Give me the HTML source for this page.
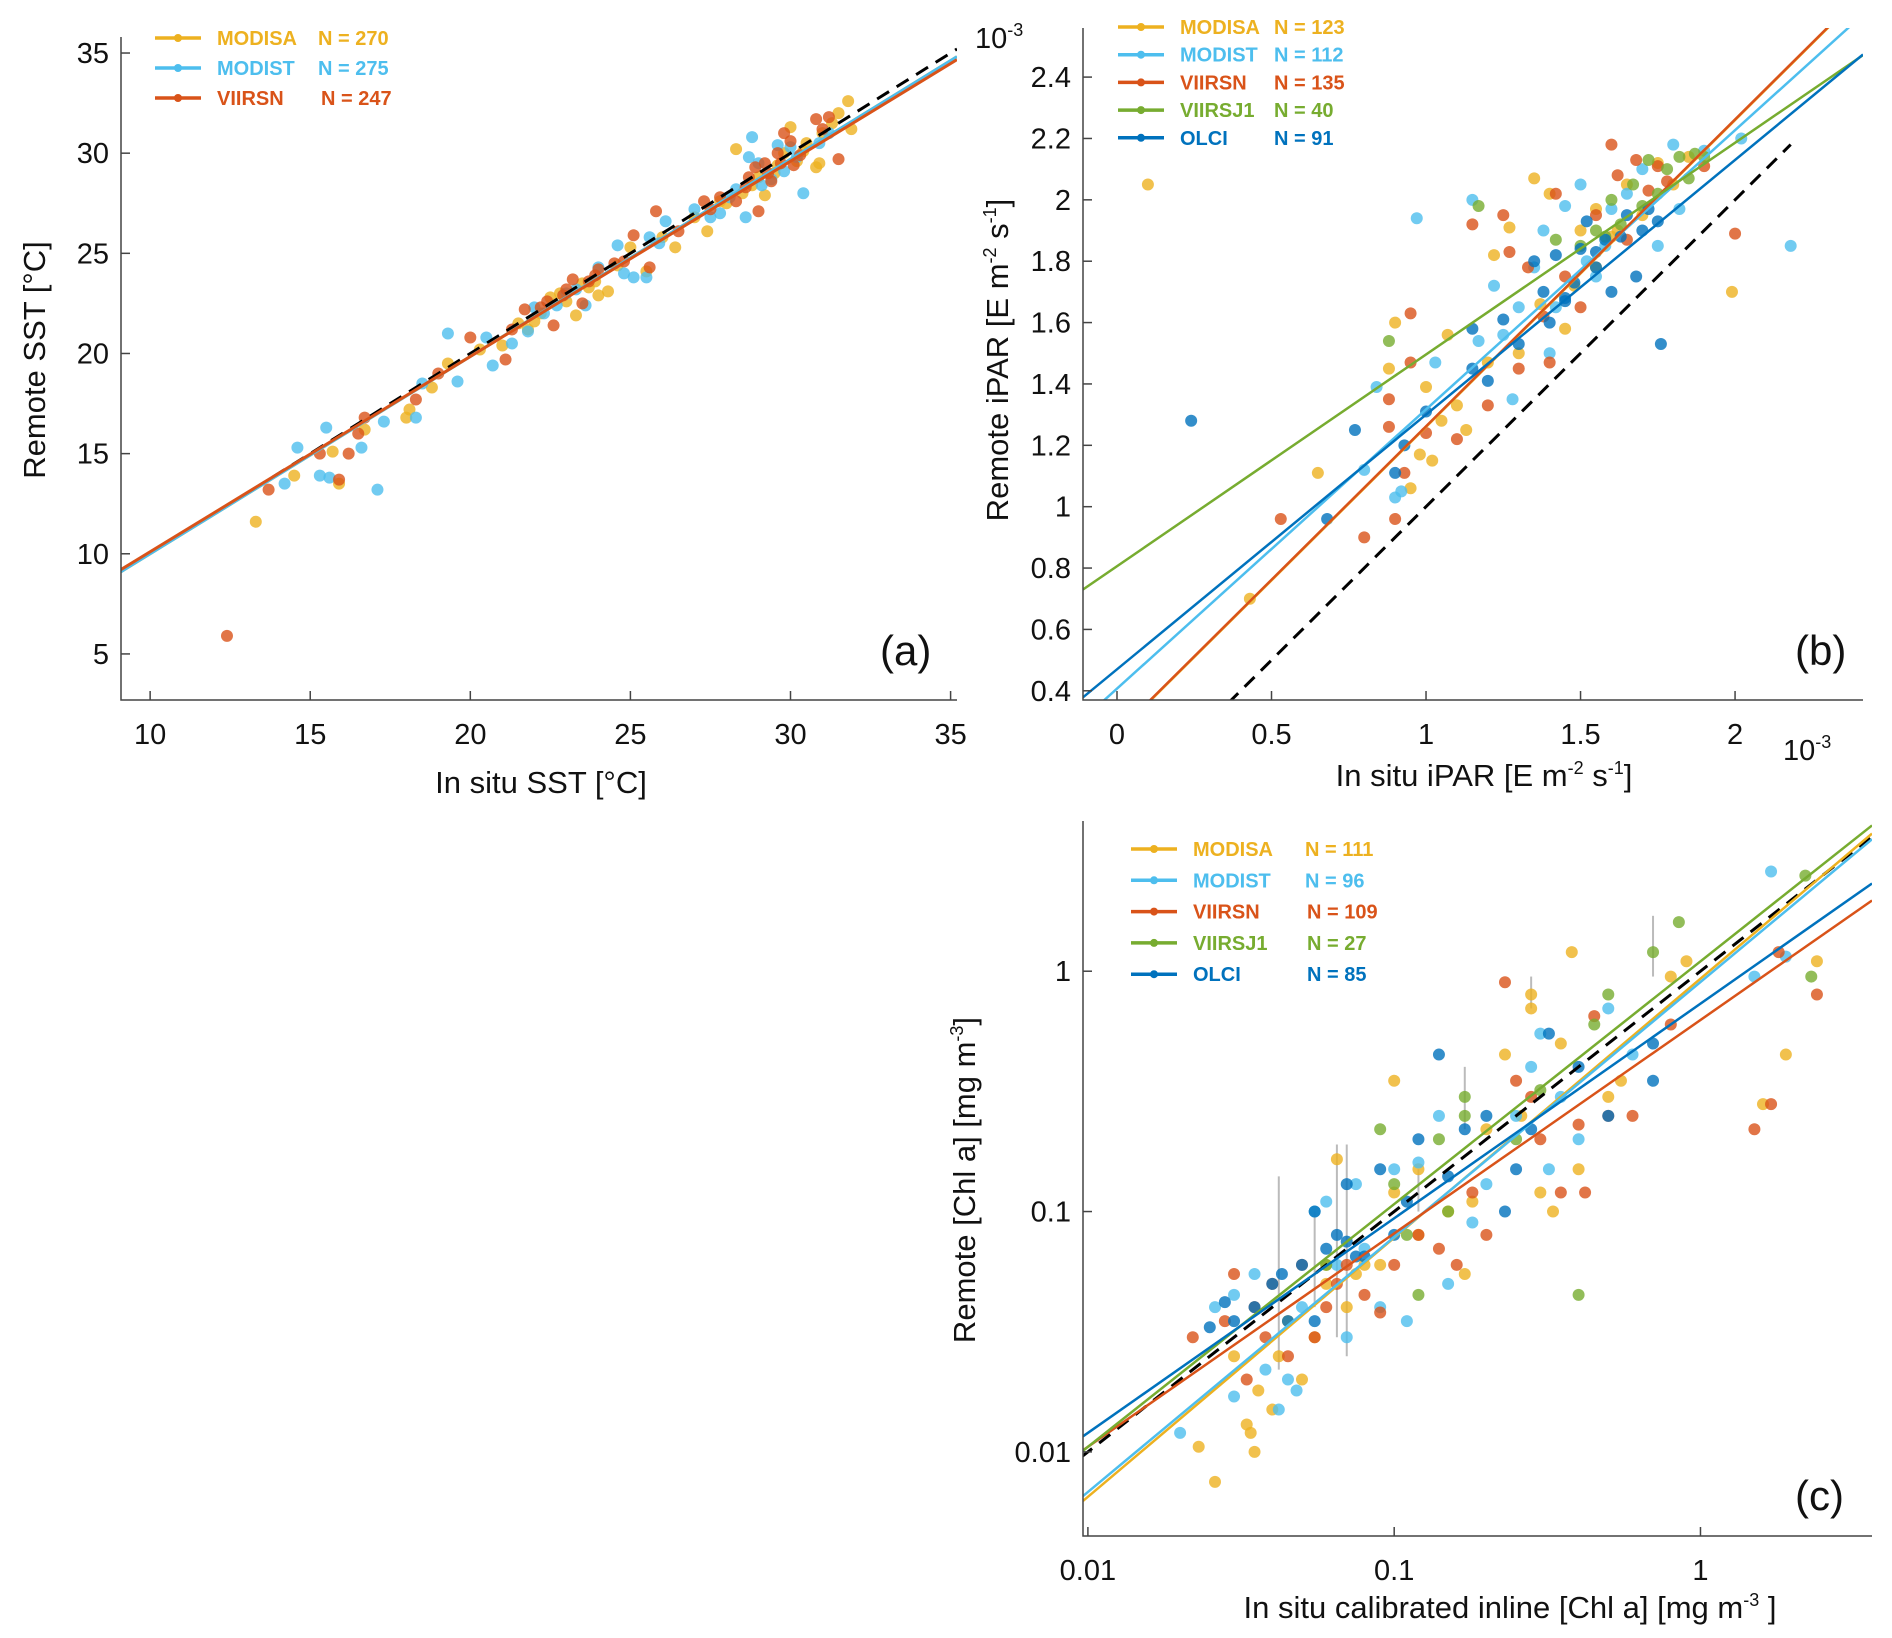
<!DOCTYPE html>
<html><head><meta charset="utf-8">
<style>
html,body{margin:0;padding:0;background:#fff;}
svg{display:block;font-family:"Liberation Sans",sans-serif;}
.tick{font-size:29px;fill:#111;}
.title{font-size:31px;fill:#111;}
.leg{font-family:"Liberation Sans Narrow","Liberation Sans",sans-serif;font-size:20px;font-weight:bold;}
</style></head>
<body>
<svg id="fig" width="1892" height="1638" viewBox="0 0 1892 1638" xmlns="http://www.w3.org/2000/svg"></svg>
<script>
// ---------- Panel (a) data ----------
const aModisa=[[13.3,11.6],[14.5,13.9],[15.9,13.5],[15.7,15.1],[16.7,16.2],[18,16.8],[18.1,17.2],[18.8,18.3],[19.3,19.5],[20.3,20.2],[21,20.4],[21.5,21.5],[22,21.6],[22.5,22.8],[23,22.6],[23.3,21.9],[23.7,23.3],[24.3,23.1],[24.6,24.4],[25,25.3],[25.5,24.1],[26,25.8],[26.4,25.3],[27,26.8],[27.4,26.1],[28,27.5],[28.3,30.2],[28.8,28.4],[29.2,27.9],[29.5,29.0],[29.8,30.0],[30,31.3],[30.2,29.6],[30.5,30.5],[30.8,29.3],[31,31.0],[31.5,32.0],[31.8,32.6],[31.9,31.2],[30.9,29.5],[29,28.8],[22.8,23.0],[24,22.9],[23.5,23.5],[22.2,22.0],[23.9,23.6],[28.5,28.0],[29.6,29.4],[30.4,30.1],[27.8,27.6],[31.3,31.5],[21.8,21.2]];
const aModist=[[14.2,13.5],[14.6,15.3],[15.3,13.9],[15.5,16.3],[15.6,13.8],[16.6,15.3],[17.1,13.2],[17.3,16.6],[18.3,16.8],[18.5,18.5],[19.3,21.0],[19.6,18.6],[20.5,20.8],[20.7,19.4],[21.3,20.5],[21.8,21.1],[22.3,22.0],[23,23.0],[23.6,22.4],[24.0,24.3],[24.6,25.4],[25.1,23.8],[25.5,23.8],[25.6,25.8],[26.1,26.6],[27.5,26.8],[27.8,27.0],[28.6,26.8],[28.7,29.8],[28.8,30.8],[29.1,28.4],[29.4,28.7],[29.6,30.4],[30,30.3],[30.4,28.0],[30.9,30.5],[31.2,31.0],[28.3,28.2],[29.8,29.1],[27,27.2],[22.7,22.4],[24.8,24.0],[22.0,22.3],[23.3,23.2],[29.0,29.5],[30.2,29.8],[28.1,27.8],[25.9,25.5]];
const aViirsn=[[12.4,5.9],[13.7,13.2],[15.3,15.0],[16.2,15.0],[15.9,13.7],[16.5,16.0],[16.7,16.8],[18.3,17.7],[19,19.0],[20.0,20.8],[21.1,19.7],[21.3,21.2],[21.7,22.2],[22.2,22.3],[22.6,21.4],[23.2,23.7],[23.5,22.5],[24,24.2],[24.5,24.5],[25.1,25.9],[25.6,24.3],[25.8,27.1],[26.5,26.1],[27.3,27.6],[27.8,27.8],[28.3,27.6],[28.7,28.8],[29.0,27.1],[29.2,29.5],[29.4,28.6],[29.7,29.5],[30.0,30.6],[30.3,29.9],[30.8,31.7],[31.0,31.2],[31.5,29.7],[31.2,31.8],[29.8,31.0],[28.9,29.3],[29.6,30.0],[23.7,23.6],[22.9,22.9],[22.4,22.6],[23.0,23.2],[23.9,23.9],[28.6,28.3],[29.3,29.0],[30.1,29.4],[27.5,27.2],[24.8,24.6]];
const aSlopes=[0.985,0.985,0.975];
const aIntercepts=[0.15,0.15,0.35];
const aXTicks=[10,15,20,25,30,35];
const aYTicks=[5,10,15,20,25,30,35];
const aN=[270,275,247];
// ---------- Panel (b) data (x1e-3) ----------
const bModisa=[[0.10,2.05],[0.43,0.70],[0.65,1.11],[0.9,1.60],[0.88,1.45],[0.95,1.06],[0.98,1.17],[1.0,1.39],[1.02,1.15],[1.05,1.28],[1.07,1.56],[1.1,1.33],[1.13,1.25],[1.2,1.47],[1.22,1.82],[1.27,1.91],[1.3,1.50],[1.35,2.07],[1.37,1.66],[1.4,2.02],[1.45,1.58],[1.5,1.90],[1.55,1.97],[1.6,1.88],[1.65,2.05],[1.7,1.95],[1.75,2.12],[1.8,2.05],[1.85,2.14],[1.99,1.70],[1.55,1.78],[1.62,1.90],[1.48,1.72]];
const bModist=[[0.84,1.39],[0.8,1.12],[0.9,1.03],[0.92,1.05],[0.97,1.94],[1.03,1.47],[1.15,2.00],[1.17,1.54],[1.22,1.72],[1.25,1.56],[1.28,1.35],[1.3,1.65],[1.35,1.78],[1.38,1.90],[1.4,1.50],[1.45,1.98],[1.5,2.05],[1.52,1.80],[1.55,1.75],[1.6,1.97],[1.65,2.02],[1.7,2.10],[1.75,1.85],[1.8,2.18],[1.82,1.97],[1.9,2.16],[2.02,2.20],[2.18,1.85],[1.58,1.85],[1.42,1.65]];
const bViirsn=[[0.53,0.96],[0.8,0.90],[0.9,0.96],[0.88,1.26],[0.88,1.35],[0.93,1.11],[0.95,1.47],[0.95,1.63],[1.0,1.24],[1.1,1.22],[1.15,1.92],[1.2,1.33],[1.25,1.95],[1.27,1.83],[1.3,1.45],[1.33,1.78],[1.38,1.62],[1.4,1.47],[1.42,2.02],[1.45,1.75],[1.5,1.65],[1.55,1.95],[1.6,2.18],[1.62,2.08],[1.68,2.13],[1.72,2.03],[1.75,2.11],[1.78,2.06],[1.9,2.11],[2.0,1.89],[1.65,1.87]];
const bViirsj1=[[0.88,1.54],[1.17,1.98],[1.42,1.87],[1.5,1.85],[1.55,1.90],[1.6,2.00],[1.63,1.92],[1.67,2.05],[1.7,1.98],[1.72,2.13],[1.78,2.10],[1.82,2.14],[1.85,2.07],[1.87,2.15],[1.9,2.14],[1.75,2.02],[1.58,1.88]];
const bOlci=[[0.24,1.28],[0.68,0.96],[0.77,1.25],[0.9,1.11],[0.93,1.20],[1.0,1.31],[1.15,1.58],[1.15,1.45],[1.2,1.41],[1.25,1.61],[1.3,1.53],[1.35,1.80],[1.38,1.70],[1.4,1.60],[1.42,1.82],[1.45,1.67],[1.48,1.73],[1.5,1.84],[1.52,1.93],[1.55,1.78],[1.58,1.87],[1.6,1.70],[1.63,1.88],[1.65,1.95],[1.68,1.75],[1.7,1.90],[1.72,1.97],[1.75,1.93],[1.76,1.53],[1.45,1.68],[1.55,1.83]];
const bSlopes=[1.0,0.91,1.0,0.69,0.83];
const bIntercepts=[0.26,0.407,0.262,0.806,0.47];
const bXTicks=[0,0.5,1,1.5,2];
const bYTicks=[0.4,0.6,0.8,1,1.2,1.4,1.6,1.8,2,2.2,2.4];
const bN=[123,112,135,40,91];
// ---------- Panel (c) data ----------
const cModisa=[[0.023,0.0105],[0.026,0.0075],[0.03,0.025],[0.033,0.013],[0.034,0.012],[0.035,0.01],[0.036,0.018],[0.04,0.015],[0.042,0.025],[0.045,0.035],[0.05,0.02],[0.055,0.03],[0.06,0.05],[0.065,0.165],[0.07,0.04],[0.075,0.055],[0.08,0.06],[0.09,0.06],[0.1,0.12],[0.1,0.35],[0.12,0.15],[0.15,0.1],[0.17,0.055],[0.18,0.11],[0.2,0.22],[0.23,0.45],[0.26,0.25],[0.28,0.8],[0.3,0.12],[0.33,0.1],[0.35,0.5],[0.38,1.2],[0.4,0.15],[0.5,0.3],[0.55,0.35],[0.8,0.95],[0.9,1.1],[1.6,0.28],[1.9,0.45],[2.4,1.1],[0.28,0.7],[0.12,0.08],[0.06,0.06]];
const cModist=[[0.02,0.012],[0.026,0.04],[0.03,0.045],[0.03,0.017],[0.035,0.055],[0.038,0.022],[0.042,0.015],[0.045,0.02],[0.048,0.018],[0.05,0.04],[0.055,0.1],[0.06,0.11],[0.07,0.03],[0.075,0.13],[0.09,0.04],[0.1,0.15],[0.11,0.035],[0.12,0.16],[0.14,0.25],[0.15,0.05],[0.18,0.09],[0.2,0.13],[0.25,0.25],[0.28,0.4],[0.3,0.55],[0.32,0.15],[0.35,0.3],[0.4,0.2],[0.5,0.7],[0.6,0.45],[1.5,0.95],[1.7,2.6],[1.9,1.15],[0.08,0.07],[0.065,0.06]];
const cViirsn=[[0.022,0.03],[0.028,0.035],[0.03,0.055],[0.033,0.02],[0.035,0.04],[0.038,0.03],[0.04,0.05],[0.045,0.025],[0.05,0.06],[0.055,0.03],[0.06,0.04],[0.065,0.05],[0.07,0.06],[0.08,0.045],[0.09,0.038],[0.1,0.06],[0.12,0.08],[0.14,0.07],[0.16,0.06],[0.18,0.12],[0.2,0.08],[0.23,0.9],[0.25,0.35],[0.28,0.3],[0.3,0.2],[0.35,0.12],[0.4,0.23],[0.45,0.65],[0.5,0.25],[0.6,0.25],[0.8,0.6],[1.5,0.22],[1.7,0.28],[2.4,0.8],[1.8,1.2],[0.42,0.12]];
const cViirsj1=[[0.09,0.22],[0.1,0.13],[0.11,0.08],[0.12,0.045],[0.14,0.2],[0.17,0.3],[0.17,0.25],[0.25,0.2],[0.3,0.32],[0.4,0.045],[0.45,0.6],[0.5,0.8],[0.7,1.2],[0.85,1.6],[2.3,0.95],[2.2,2.5],[0.15,0.1],[0.06,0.06]];
const cOlci=[[0.025,0.033],[0.028,0.042],[0.03,0.035],[0.035,0.04],[0.04,0.05],[0.043,0.055],[0.045,0.035],[0.05,0.06],[0.055,0.035],[0.055,0.1],[0.06,0.07],[0.065,0.08],[0.07,0.075],[0.07,0.13],[0.08,0.065],[0.09,0.15],[0.1,0.08],[0.11,0.11],[0.12,0.2],[0.14,0.45],[0.15,0.14],[0.17,0.22],[0.2,0.25],[0.23,0.1],[0.25,0.15],[0.28,0.22],[0.32,0.55],[0.4,0.4],[0.5,0.25],[0.7,0.35],[0.7,0.5],[0.075,0.065]];
const cErrBars=[[0.042,0.022,0.14],[0.065,0.03,0.19],[0.07,0.025,0.19],[0.055,0.04,0.1],[0.17,0.22,0.4],[0.28,0.7,0.95],[0.7,0.95,1.7],[0.12,0.1,0.15]];
const cSlopes=[1.078,1.061,0.888,1.01,0.893];
const cIntercepts=[-0.031,-0.045,-0.203,0.041,-0.135];
const cXTicks=[0.01,0.1,1];
const cYTicks=[0.01,0.1,1];
const cN=[111,96,109,27,85];

const names=['MODISA','MODIST','VIIRSN','VIIRSJ1','OLCI'];
const colors=['#EDB120','#4DBEEE','#D95319','#77AC30','#0072BD'];
const NS='http://www.w3.org/2000/svg';
const svg=document.getElementById('fig');
function mk(tag,attrs,parent,text){const e=document.createElementNS(NS,tag);for(const k in attrs)e.setAttribute(k,attrs[k]);if(text!==undefined)e.textContent=text;(parent||svg).appendChild(e);return e;}
const defs=mk('defs',{});

function panel(cfg){
  const g=mk('g',{});
  
  
  const cp=mk('clipPath',{id:cfg.id+'-clip'},defs);
  mk('rect',{x:cfg.L,y:cfg.T,width:cfg.R-cfg.L,height:cfg.B-cfg.T},cp);
  const tx=cfg.log?v=>Math.log10(v):v=>v;
  const sx=v=>cfg.L+(tx(v)-cfg.xr[0])/(cfg.xr[1]-cfg.xr[0])*(cfg.R-cfg.L);
  const sy=v=>cfg.B-(tx(v)-cfg.yr[0])/(cfg.yr[1]-cfg.yr[0])*(cfg.B-cfg.T);
  const plot=mk('g',{'clip-path':'url(#'+cfg.id+'-clip)'},g);
  
  
  (cfg.err||[]).forEach(e=>{const l=mk('line',{x1:sx(e[0]),x2:sx(e[0]),y1:sy(e[1]),y2:sy(e[2]),stroke:'#bbb','stroke-width':2},plot);
    });
  cfg.series.forEach((pts,i)=>{pts.forEach(p=>{const c=mk('circle',{cx:sx(p[0]),cy:sy(p[1]),r:cfg.r||6,fill:colors[cfg.cidx[i]],'fill-opacity':0.8},plot);
    });});
  const d=mk('line',{x1:sx(cfg.one[0]),y1:sy(cfg.one[0]),x2:sx(cfg.one[1]),y2:sy(cfg.one[1]),stroke:'#000','stroke-width':3,'stroke-dasharray':'14,9'},plot);
  
  cfg.slopes.forEach((s,i)=>{
    let x0,x1,y0,y1;
    if(cfg.log){x0=cfg.xr[0];x1=cfg.xr[1];y0=cfg.ints[i]+s*x0;y1=cfg.ints[i]+s*x1;
      x0=Math.pow(10,x0);x1=Math.pow(10,x1);y0=Math.pow(10,y0);y1=Math.pow(10,y1);}
    else{x0=cfg.xr[0];x1=cfg.xr[1];y0=cfg.ints[i]+s*x0;y1=cfg.ints[i]+s*x1;}
    const l=mk('line',{x1:sx(x0),y1:sy(y0),x2:sx(x1),y2:sy(y1),stroke:colors[cfg.cidx[i]],'stroke-width':cfg.lw||2.5},plot);
    
  });
  const ax=mk('path',{d:`M${cfg.L},${cfg.T}V${cfg.B}H${cfg.R}`,fill:'none',stroke:'#444','stroke-width':1.5},g);
  
  cfg.xt.forEach(t=>{const x=sx(t);mk('line',{x1:x,x2:x,y1:cfg.B,y2:cfg.B-9,stroke:'#444','stroke-width':1.5},g);
    const tl=mk('text',{x:x,y:cfg.B+44,'text-anchor':'middle',class:'tick'},g,cfg.xfmt(t));
    });
  cfg.yt.forEach(t=>{const y=sy(t);mk('line',{x1:cfg.L,x2:cfg.L+9,y1:y,y2:y,stroke:'#444','stroke-width':1.5},g);
    const tl=mk('text',{x:cfg.L-12,y:y+10,'text-anchor':'end',class:'tick'},g,cfg.yfmt(t));
    });
  cfg.cidx.forEach((ci,i)=>{const y=cfg.leg[1]+i*cfg.leg[3];
    const lg=mk('g',{},g);
    mk('line',{x1:cfg.leg[0],x2:cfg.leg[0]+46,y1:y,y2:y,stroke:colors[ci],'stroke-width':3.5},lg);
    mk('circle',{cx:cfg.leg[0]+23,cy:y,r:4,fill:colors[ci]},lg);
    mk('text',{x:cfg.leg[0]+62,y:y+7,fill:colors[ci],class:'leg'},lg,names[ci]);
    mk('text',{x:cfg.leg[2]+(ci>=2?cfg.nOff||0:0),y:y+7,fill:colors[ci],class:'leg'},lg,'N = '+cfg.N[i]);
  });
  const pl=mk('text',{x:cfg.plab[0],y:cfg.plab[1],'font-size':42,fill:'#111'},g,cfg.plab[2]);
  
  return {g,sx,sy};
}
const fmt=v=>String(v);
panel({id:'panel-a',L:121,R:957,T:37,B:700,xr:[9.09,35.2],yr:[2.7,35.8],series:[aModisa,aModist,aViirsn],cidx:[0,1,2],
  slopes:aSlopes,ints:aIntercepts,one:[12,35.2],xt:aXTicks,yt:aYTicks,xfmt:fmt,yfmt:fmt,leg:[155,38,318,30],N:aN,nOff:3,
  plab:[880,665,'(a)'],lw:3});
panel({id:'panel-b',L:1083,R:1863,T:28,B:700,xr:[-0.11,2.414],yr:[0.37,2.56],series:[bModisa,bModist,bViirsn,bViirsj1,bOlci],cidx:[0,1,2,3,4],
  slopes:bSlopes,ints:bIntercepts,one:[0.36,2.18],xt:bXTicks,yt:bYTicks,xfmt:fmt,yfmt:fmt,leg:[1118,27,1274,27.7],N:bN,nOff:0,
  plab:[1795,665,'(b)']});
panel({id:'panel-c',L:1083,R:1872,T:821,B:1536,log:true,xr:[-2.016,0.56],yr:[-2.35,0.625],series:[cModisa,cModist,cViirsn,cViirsj1,cOlci],cidx:[0,1,2,3,4],
  slopes:cSlopes,ints:cIntercepts,one:[0.0095,3.6],xt:cXTicks,yt:cYTicks,xfmt:fmt,yfmt:fmt,leg:[1131,849,1305,31.3],N:cN,nOff:2,
  plab:[1795,1510,'(c)'],err:cErrBars});

function title(txt,x,y,rot,name){const t=mk('text',{x:x,y:y,'text-anchor':'middle',class:'title',transform:rot?`rotate(-90 ${x} ${y})`:''});
  t.innerHTML=txt;}
title('Remote SST [°C]',45,360,true,'y-axis-title-a');
title('In situ SST [°C]',541,793,false,'x-axis-title-a');
title('Remote iPAR [E m<tspan dy="-12" font-size="18">-2</tspan><tspan dy="12"> s</tspan><tspan dy="-12" font-size="18">-1</tspan><tspan dy="12">]</tspan>',1008,360,true,'y-axis-title-b');
title('In situ iPAR [E m<tspan dy="-12" font-size="18">-2</tspan><tspan dy="12"> s</tspan><tspan dy="-12" font-size="18">-1</tspan><tspan dy="12">]</tspan>',1484,786,false,'x-axis-title-b');
title('Remote [Chl a] [mg m<tspan dy="-12" font-size="18">-3</tspan><tspan dy="12">]</tspan>',975,1180,true,'y-axis-title-c');
title('In situ calibrated inline [Chl a] [mg m<tspan dy="-12" font-size="18">-3</tspan><tspan dy="12"> ]</tspan>',1510,1618,false,'x-axis-title-c');
const e1=mk('text',{x:975,y:48,class:'tick','font-size':28});e1.innerHTML='10<tspan dy="-12" font-size="18">-3</tspan>';

const e2=mk('text',{x:1783,y:760,class:'tick','font-size':28});e2.innerHTML='10<tspan dy="-12" font-size="18">-3</tspan>';

</script>
</body></html>
